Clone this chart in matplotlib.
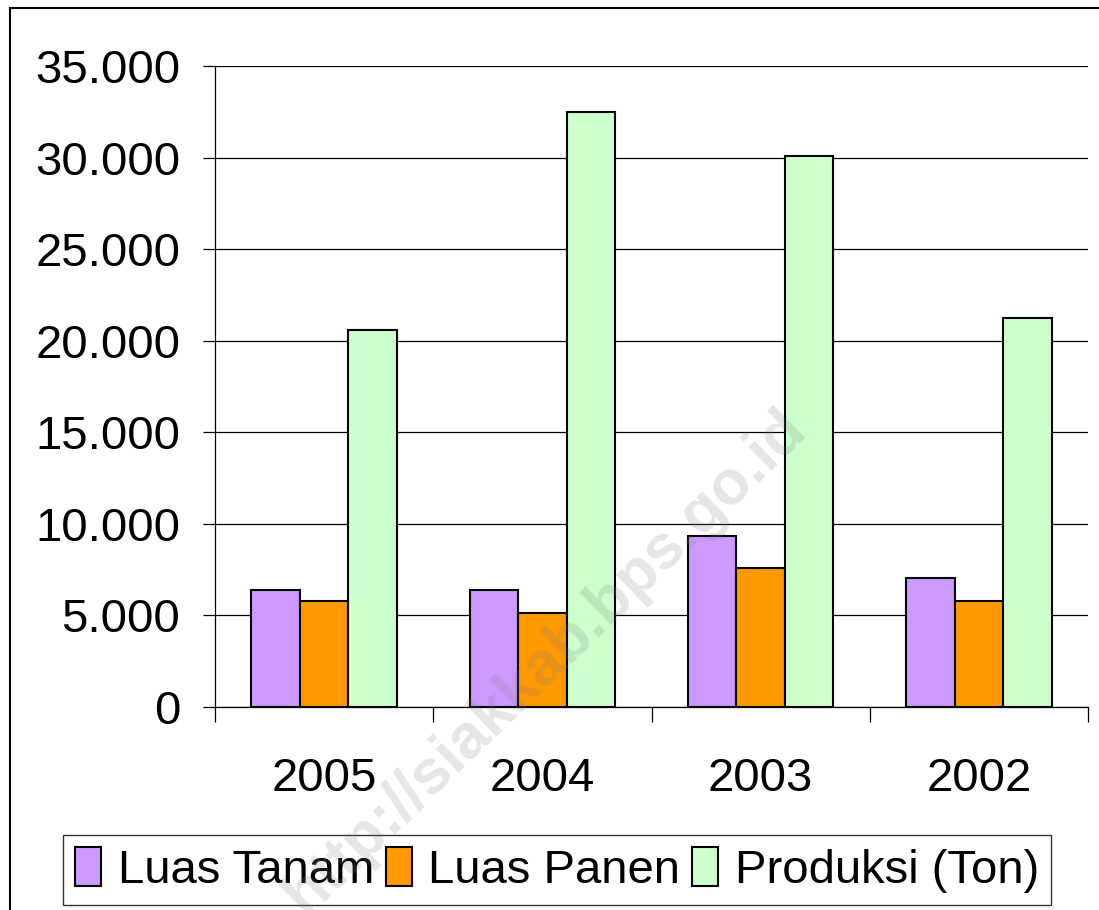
import numpy as np
import matplotlib
matplotlib.use('Agg')
import matplotlib.pyplot as plt
from matplotlib import rcParams
from matplotlib.patches import Rectangle
from matplotlib.ticker import FuncFormatter, MultipleLocator

rcParams['font.family'] = ['Liberation Sans', 'DejaVu Sans']

# data
tahun = ['2005', '2004', '2003', '2002']
luas_tanam = [6400, 6400, 9330, 7020]
luas_panen = [5770, 5130, 7590, 5810]
produksi = [20610, 32480, 30080, 21240]

series = ['Luas Tanam', 'Luas Panen', 'Produksi (Ton)']
colors = ['#CC99FF', '#FF9900', '#CCFFCC']

fig = plt.figure(figsize=(10.99, 9.10), dpi=100)
ax = fig.add_axes([215 / 1099, 1 - 707 / 910, 873 / 1099, 641 / 910])

x = np.arange(len(tahun))
w = 1 / 4.5  # gap width 150%
for i, (vals, name, c) in enumerate(zip([luas_tanam, luas_panen, produksi], series, colors)):
    ax.bar(x + (i - 1) * w, vals, w, color=c, edgecolor='black', linewidth=1.5,
           label=name, zorder=3)

ax.set_xlim(-0.5, len(tahun) - 0.5)
ax.set_ylim(0, 35000)
ax.yaxis.set_major_locator(MultipleLocator(5000))
ax.yaxis.set_major_formatter(FuncFormatter(lambda v, p: f'{int(v):,}'.replace(',', '.')))
ax.grid(axis='y', color='black', linewidth=0.9, zorder=0)

ax.set_xticks(x)
ax.set_xticklabels(tahun)
ax.set_xticks(np.arange(-0.5, len(tahun)), minor=True)
ax.tick_params(axis='x', which='major', length=0, pad=36, labelsize=34)
ax.tick_params(axis='x', which='minor', length=11, width=0.9, direction='out')
ax.tick_params(axis='y', length=9, width=0.9, pad=16, labelsize=34)

for s in ['top', 'right']:
    ax.spines[s].set_visible(False)
for s in ['left', 'bottom']:
    ax.spines[s].set_linewidth(0.9)

leg = fig.legend(loc='center', bbox_to_anchor=(557 / 1099, 1 - 870 / 910), ncol=3,
                 fontsize=34, frameon=True, fancybox=False, edgecolor='black',
                 handlelength=0.55, handleheight=0.9, handletextpad=0.35,
                 columnspacing=0.25, borderpad=0.25, borderaxespad=0)
leg.get_frame().set_linewidth(1.0)

# outer chart border
fig.patches.append(Rectangle((10 / 1099, -0.2), 1.2, 1.2 - 8 / 910, transform=fig.transFigure,
                             fill=False, edgecolor='black', linewidth=1.5))

# watermark
fig.text(545 / 1099, 1 - 662 / 910, 'http://siakkab.bps.go.id', rotation=44,
         ha='center', va='center', fontsize=45, fontweight='bold',
         color='#808080', alpha=0.2, zorder=10)

fig.savefig('out.png', dpi=100)
